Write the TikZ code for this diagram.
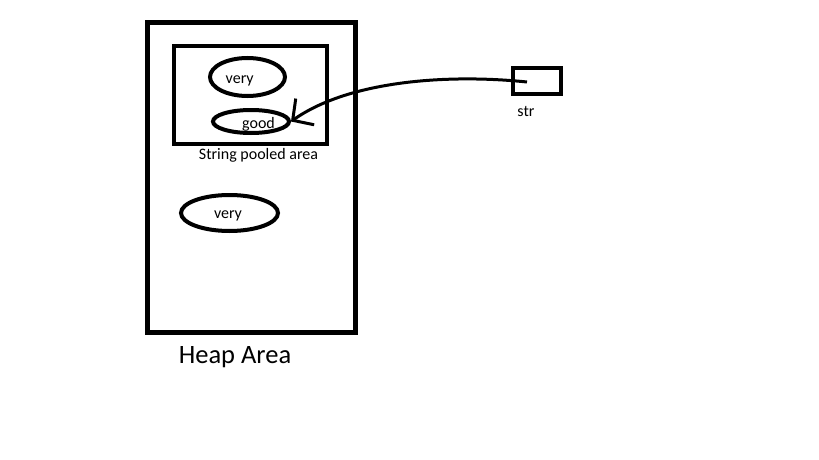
\documentclass[tikz,border=0pt]{standalone}
\usepackage{fontspec}
\setmainfont{Carlito}
\usetikzlibrary{shapes.geometric,arrows.meta}

\begin{document}
\begin{tikzpicture}[x=1pt,y=-1pt,
	    blob/.style={draw, ellipse, line width=4pt, inner sep=0pt},
	    lbl/.style={font=\fontsize{16}{19}\selectfont, anchor=base, inner sep=0pt}]
	    \useasboundingbox (0,0) rectangle (819,460);
	    % heap and pool
	    \draw[line width=5pt] (147.5,22.5) rectangle (355.5,332.5);
	    \draw[line width=4pt] (174,46) rectangle (327,143.7);
	    \node[blob, minimum width=75pt, minimum height=38pt] (veryA) at (247.5,77) {};
	    \node[blob, minimum width=76pt, minimum height=23pt] (good) at (251,121.5) {};
	    \node[blob, minimum width=97pt, minimum height=36pt] (veryB) at (229.5,213) {};
	    \node[lbl] (veryAtxt) at (239.7,83) {very};
	    \node[lbl] (goodtxt) at (258.5,128) {good};
	    \node[lbl] (veryBtxt) at (228,218) {very};
	    \node[lbl] (pooltxt) at (258.5,159) {String pooled area};
	    \node[lbl, font=\fontsize{26.5}{31}\selectfont] (heaptxt) at (235,363) {Heap Area};
	    % reference
	    \node[draw, line width=4pt, minimum width=48pt, minimum height=25.7pt, inner sep=0pt] (str) at (536.5,81) {};
	    \node[lbl] (strtxt) at (526,116) {str};
	    \coordinate (strptr) at (527,82);
	    \draw[line width=3pt, -{Straight Barb[length=15pt, width=32pt]}] (strptr) .. controls (450,74) and (350,80) .. (good.east);
\end{tikzpicture}
\end{document}
